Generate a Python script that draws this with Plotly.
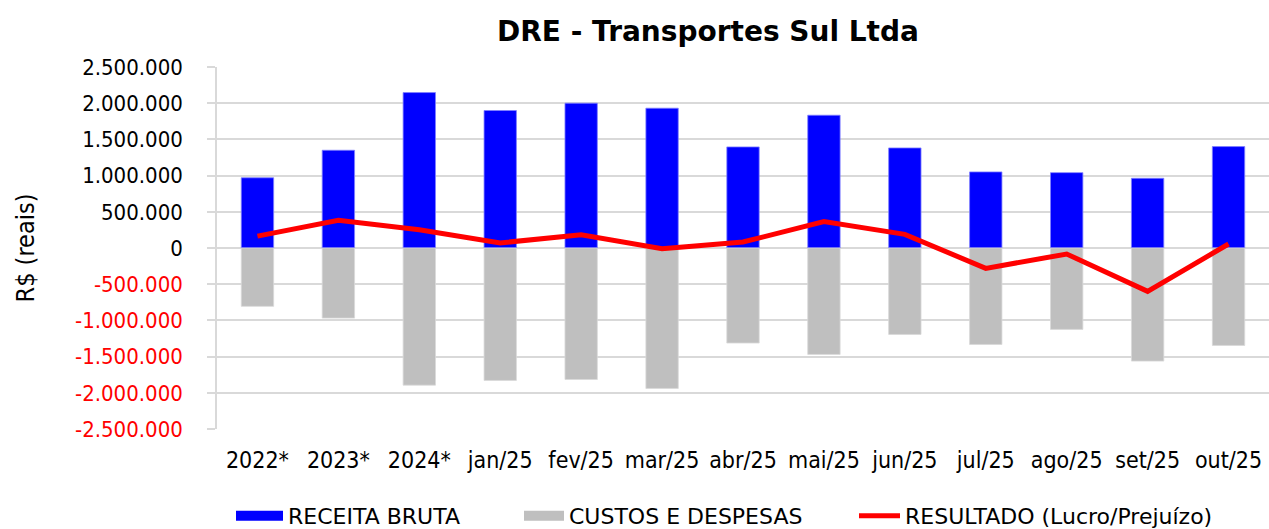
import plotly.graph_objects as go

# Monthly income statement figures (R$)
categorias = ["2022*", "2023*", "2024*", "jan/25", "fev/25", "mar/25", "abr/25",
              "mai/25", "jun/25", "jul/25", "ago/25", "set/25", "out/25"]
receita_bruta = [970000, 1350000, 2147000, 1899000, 2000000, 1931000, 1396000,
                 1834000, 1382000, 1051000, 1041000, 963000, 1401000]
custos_despesas = [-806000, -968000, -1894000, -1829000, -1816000, -1940000, -1313000,
                   -1470000, -1194000, -1332000, -1124000, -1562000, -1346000]
resultado = [164000, 382000, 253000, 70000, 184000, -9000, 83000,
             364000, 188000, -281000, -83000, -599000, 55000]

y_min, y_max, y_step = -2500000, 2500000, 500000
y_ticks = list(range(y_min, y_max + 1, y_step))

AZUL = "#0000ff"
CINZA = "#bfbfbf"
VERMELHO = "#ff0000"
GRADE = "#d9d9d9"
FONTE = "DejaVu Sans Condensed, Liberation Sans Narrow, DejaVu Sans, sans-serif"
FONTE_LEG = "DejaVu Sans, sans-serif"


def fmt_br(v):
    txt = f"{abs(v):,}".replace(",", ".")
    if v < 0:
        return f'<span style="color:{VERMELHO}">-{txt}</span>'
    return txt


fig = go.Figure()

fig.add_trace(go.Bar(
    x=categorias, y=receita_bruta, name="RECEITA BRUTA",
    marker=dict(color=AZUL, line=dict(color="#8080ff", width=0.8)),
    width=0.4, showlegend=False,
))
fig.add_trace(go.Bar(
    x=categorias, y=custos_despesas, name="CUSTOS E DESPESAS",
    marker=dict(color=CINZA, line=dict(color=GRADE, width=0.8)),
    width=0.4, showlegend=False,
))
fig.add_trace(go.Scatter(
    x=categorias, y=resultado, name="RESULTADO (Lucro/Prejuízo)",
    mode="lines", line=dict(color=VERMELHO, width=5),
    legend="legend3",
))

# wide rectangular legend swatches for the two bar series
fig.add_trace(go.Scatter(
    x=[None], y=[None], name="RECEITA BRUTA", mode="lines",
    line=dict(color=AZUL, width=10), legend="legend",
))
fig.add_trace(go.Scatter(
    x=[None], y=[None], name="CUSTOS E DESPESAS", mode="lines",
    line=dict(color=CINZA, width=10), legend="legend2",
))

W, H = 1269, 529
leg_y = 1 - 516 / H
leg_common = dict(orientation="h", yref="container", xref="container",
                  y=leg_y, yanchor="middle", xanchor="left",
                  font=dict(family=FONTE_LEG, size=22, color="#000000"),
                  bgcolor="rgba(0,0,0,0)")

fig.update_layout(
    width=W, height=H,
    margin=dict(l=217, r=0, t=67, b=100),
    paper_bgcolor="white", plot_bgcolor="white",
    barmode="relative",
    title=dict(text="<b>DRE - Transportes Sul Ltda</b>",
               x=708 / W, xanchor="center", xref="container",
               y=1 - 31 / H, yanchor="middle", yref="container",
               font=dict(family="DejaVu Sans, sans-serif", size=28, color="#000000")),
    font=dict(family=FONTE, size=22, color="#000000"),
    legend=dict(x=231 / W, itemwidth=47, **leg_common),
    legend2=dict(x=519 / W, itemwidth=40, **leg_common),
    legend3=dict(x=854 / W, itemwidth=41, **leg_common),
    xaxis=dict(
        type="category", range=[-0.5, len(categorias) - 0.5],
        showgrid=False, zeroline=False, showline=False, ticks="",
        tickfont=dict(family=FONTE, size=23, color="#000000"),
        ticklabelstandoff=15,
    ),
    xaxis2=dict(
        overlaying="x", anchor="free", position=0.5, side="bottom",
        range=[-0.5, len(categorias) - 0.5],
        tickvals=[i + 0.5 for i in range(len(categorias) - 1)],
        ticks="outside", ticklen=7, tickwidth=1.5, tickcolor=GRADE,
        showticklabels=False, showgrid=False, zeroline=False, showline=False,
    ),
    yaxis=dict(
        range=[y_min, y_max], tickvals=y_ticks,
        ticktext=[fmt_br(v) for v in y_ticks],
        showgrid=True, gridcolor=GRADE, gridwidth=1.5,
        zeroline=True, zerolinecolor=GRADE, zerolinewidth=1.5,
        showline=True, linecolor=GRADE, linewidth=1.5,
        ticks="outside", ticklen=8, tickwidth=1.5, tickcolor=GRADE,
        ticklabelstandoff=20,
        tickfont=dict(family=FONTE, size=22, color="#000000"),
        title=dict(text="R$ (reais)", standoff=33,
                   font=dict(family=FONTE, size=25, color="#000000")),
    ),
)

fig.write_html("out.html")
